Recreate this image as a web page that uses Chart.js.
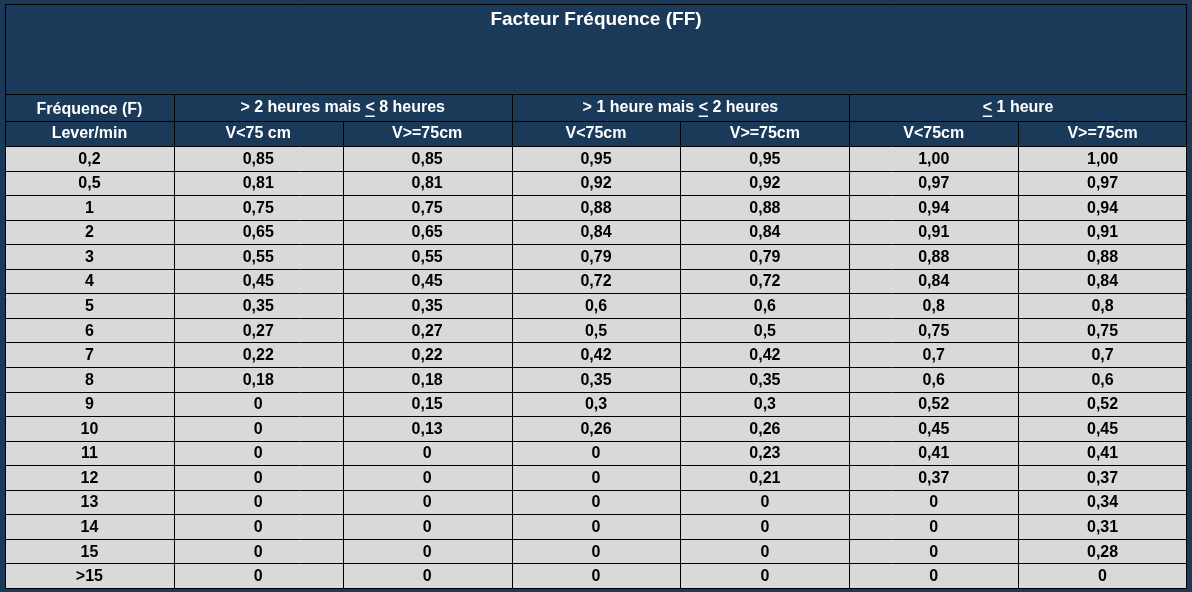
<!DOCTYPE html>
<html><head><meta charset="utf-8">
<script src="https://cdn.jsdelivr.net/npm/chart.js@4"></script>
<style>body{margin:0;background:#1b3a5a}canvas{display:block}</style>
</head><body>
<canvas id="c" width="1192" height="592"></canvas>
<script>
// data
const title = 'Facteur Fréquence (FF)'
const groups = ['> 2 heures mais _<_ 8 heures', '> 1 heure mais _<_ 2 heures', '_<_ 1 heure']
const subHeaders = ['V<75 cm', 'V>=75cm', 'V<75cm', 'V>=75cm', 'V<75cm', 'V>=75cm']
const frequencies = ['0,2', '0,5', '1', '2', '3', '4', '5', '6', '7', '8', '9', '10', '11', '12', '13', '14', '15', '>15']
const col1 = ['0,85', '0,81', '0,75', '0,65', '0,55', '0,45', '0,35', '0,27', '0,22', '0,18', '0', '0', '0', '0', '0', '0', '0', '0']
const col2 = ['0,85', '0,81', '0,75', '0,65', '0,55', '0,45', '0,35', '0,27', '0,22', '0,18', '0,15', '0,13', '0', '0', '0', '0', '0', '0']
const col3 = ['0,95', '0,92', '0,88', '0,84', '0,79', '0,72', '0,6', '0,5', '0,42', '0,35', '0,3', '0,26', '0', '0', '0', '0', '0', '0']
const col4 = ['0,95', '0,92', '0,88', '0,84', '0,79', '0,72', '0,6', '0,5', '0,42', '0,35', '0,3', '0,26', '0,23', '0,21', '0', '0', '0', '0']
const col5 = ['1,00', '0,97', '0,94', '0,91', '0,88', '0,84', '0,8', '0,75', '0,7', '0,6', '0,52', '0,45', '0,41', '0,37', '0', '0', '0', '0']
const col6 = ['1,00', '0,97', '0,94', '0,91', '0,88', '0,84', '0,8', '0,75', '0,7', '0,6', '0,52', '0,45', '0,41', '0,37', '0,34', '0,31', '0,28', '0']
const columns = [frequencies, col1, col2, col3, col4, col5, col6]

const FONT = 'bold 15px "Liberation Sans", Arial, sans-serif'
const NAVY = '#1b3a5a'

// text with "_<_" drawn as underlined <
function drawMarked(ctx, str, cx, cy) {
    const parts = str.split('_')
    const total = parts.reduce((w, p) => w + ctx.measureText(p).width, 0)
    let x = cx - total / 2
    ctx.textAlign = 'left'
    parts.forEach((p, i) => {
        const w = ctx.measureText(p).width
        ctx.fillText(p, x, cy)
        if (i % 2 === 1) ctx.fillRect(x, cy + 8, w, 1.5)
        x += w
    })
}

const tablePlugin = {
    id: 'table',
    beforeDraw(chart) {
        const ctx = chart.ctx
        const xs = chart.scales.x, ys = chart.scales.y
        const X = v => xs.getPixelForValue(v)
        const Y = v => ys.getPixelForValue(v)
        const nRows = frequencies.length
        const top = Y(0), bottom = Y(nRows)
        const h1 = top - 52, h2 = top - 25
        ctx.save()
        // header background
        ctx.fillStyle = NAVY
        ctx.fillRect(0, 0, chart.width, chart.height)
        ctx.fillStyle = '#d9d9d9'
        ctx.fillRect(X(0), top, X(7) - X(0), bottom - top)
        // lines
        ctx.strokeStyle = '#000'
        ctx.lineWidth = 1
        ctx.beginPath()
        ctx.rect(X(0) + 0.5, 4.5, X(7) - X(0) - 1, bottom - 4)
        for (let r = 0; r <= nRows; r++) { ctx.moveTo(X(0), Math.round(Y(r)) + 0.5); ctx.lineTo(X(7), Math.round(Y(r)) + 0.5) }
        ctx.moveTo(X(0), h1 + 0.5); ctx.lineTo(X(7), h1 + 0.5)
        ctx.moveTo(X(0), h2 + 0.5); ctx.lineTo(X(7), h2 + 0.5)
        for (let c = 1; c < 7; c++) {
            const yStart = (c % 2 === 1) ? h1 : h2
            ctx.moveTo(Math.round(X(c)) + 0.5, yStart); ctx.lineTo(Math.round(X(c)) + 0.5, bottom)
        }
        ctx.stroke()
        // texts
        ctx.font = FONT
        ctx.textBaseline = 'middle'
        ctx.textAlign = 'center'
        ctx.fillStyle = '#fff'
        ctx.font = 'bold 19px "Liberation Sans", Arial, sans-serif'
        ctx.fillText(title, (X(0) + X(7)) / 2, 20)
        ctx.font = 'bold 16px "Liberation Sans", Arial, sans-serif'
        ctx.fillText('Fréquence (F)', X(0.5), (h1 + h2) / 2 + 2)
        ctx.fillText('Lever/min', X(0.5), (h2 + top) / 2)
        groups.forEach((g, i) => drawMarked(ctx, g, X(2 + 2 * i), (h1 + h2) / 2))
        ctx.textAlign = 'center'
        subHeaders.forEach((s, i) => ctx.fillText(s, X(1.5 + i), (h2 + top) / 2))
        ctx.fillStyle = '#000'
        columns.forEach((col, c) => col.forEach((v, r) => ctx.fillText(v, X(c + 0.5), Y(r + 0.5) + 1)))
        ctx.restore()
    }
}

const myChart = new Chart(document.getElementById('c'), {
    type: 'scatter',
    data: { datasets: [{ data: [] }] },
    options: {
        responsive: false,
        devicePixelRatio: 1,
        animation: false,
        layout: { padding: { left: 5, right: 5, top: 146, bottom: 4 } },
        plugins: { legend: { display: false }, tooltip: { enabled: false } },
        scales: {
            x: { type: 'linear', min: 0, max: 7, display: false },
            y: { type: 'linear', min: 0, max: frequencies.length, reverse: true, display: false }
        }
    },
    plugins: [tablePlugin]
});
</script>
</body></html>
